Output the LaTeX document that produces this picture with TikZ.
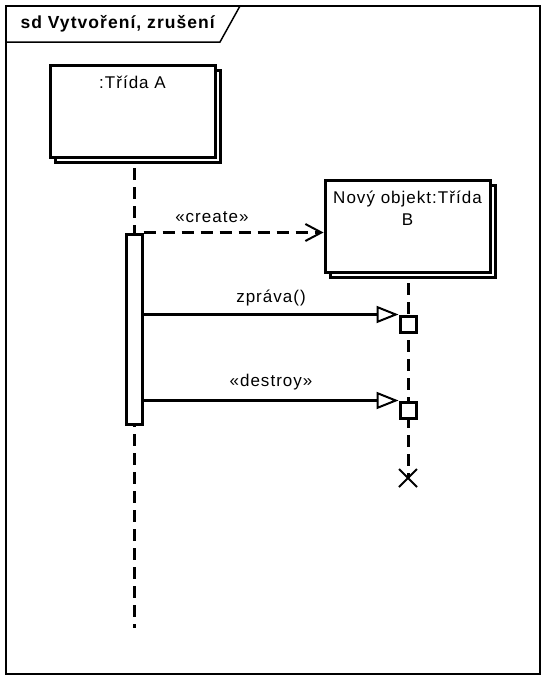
\documentclass[tikz,border=0pt]{standalone}
\usepackage{fontspec}
\setmainfont{Liberation Sans}[LetterSpace=6]
\usetikzlibrary{arrows.meta,positioning}

\tikzset{
    objbox/.style={draw, line width=3pt, fill=white, minimum width=165pt, minimum height=92pt},
    actbox/.style={draw, line width=3pt, fill=white, inner sep=0pt},
    lifeline/.style={line width=3pt, dash pattern=on 12pt off 7pt},
    msg/.style={line width=3pt, -{Triangle[open, length=22pt, width=17pt, line width=2pt]}},
    createmsg/.style={lifeline, -{Straight Barb[length=16pt, width=17pt, line width=2pt]}},
    lbl/.style={font=\fontsize{17}{22}\selectfont, inner sep=1pt}
}

\begin{document}
\begin{tikzpicture}[x=1pt, y=-1pt]
    \useasboundingbox (0,0) rectangle (546,680);

    % frame
    \draw[line width=1.5pt] (6,6) rectangle (540,674);
    \draw[line width=1.5pt] (6,42) -- (220,42) -- (240,6);
    \node[anchor=west, font=\fontsize{17.5}{20}\selectfont\bfseries] (title) at (17,24) {sd Vytvoření, zrušení};

    % lifelines
    \coordinate (endA) at (134,628);
    \coordinate (endB) at (408,478);
    \draw[lifeline] (134,111) -- (endA);
    \draw[lifeline] (408,226) -- (endB);

    % object A
    \draw[line width=3pt, fill=white] (55,70) rectangle (220,162);
    \node[objbox] (a) at (132.5,111) {};
    \node[lbl, below=11pt of a.north] {:Třída A};

    % object B
    \draw[line width=3pt, fill=white] (330,185) rectangle (495,277);
    \node[objbox] (b) at (407.5,226) {};
    \node[lbl, below=11pt of b.north, align=center] {Nový objekt:Třída\\B};

    % activations
    \node[actbox, minimum width=16pt, minimum height=190pt] (actA) at (134,329) {};
    \node[actbox, minimum size=16pt] (b1) at (408,324) {};
    \node[actbox, minimum size=16pt] (b2) at (408,410) {};

    % messages
    \draw[createmsg] (actA.north east) -- (b.west |- actA.north east)
        node[lbl, pos=0.38, above=7pt] {«create»};
    \draw[msg] (actA.east |- b1.north) -- (b1.north west)
        node[lbl, pos=0.5, above=6pt] {zpráva()};
    \draw[msg] (actA.east |- b2.north) -- (b2.north west)
        node[lbl, pos=0.5, above=8pt] {«destroy»};

    % destruction
    \draw[line width=2pt] ([shift={(-9,-9)}]endB) -- ([shift={(9,9)}]endB)
        ([shift={(-9,9)}]endB) -- ([shift={(9,-9)}]endB);
\end{tikzpicture}
\end{document}
